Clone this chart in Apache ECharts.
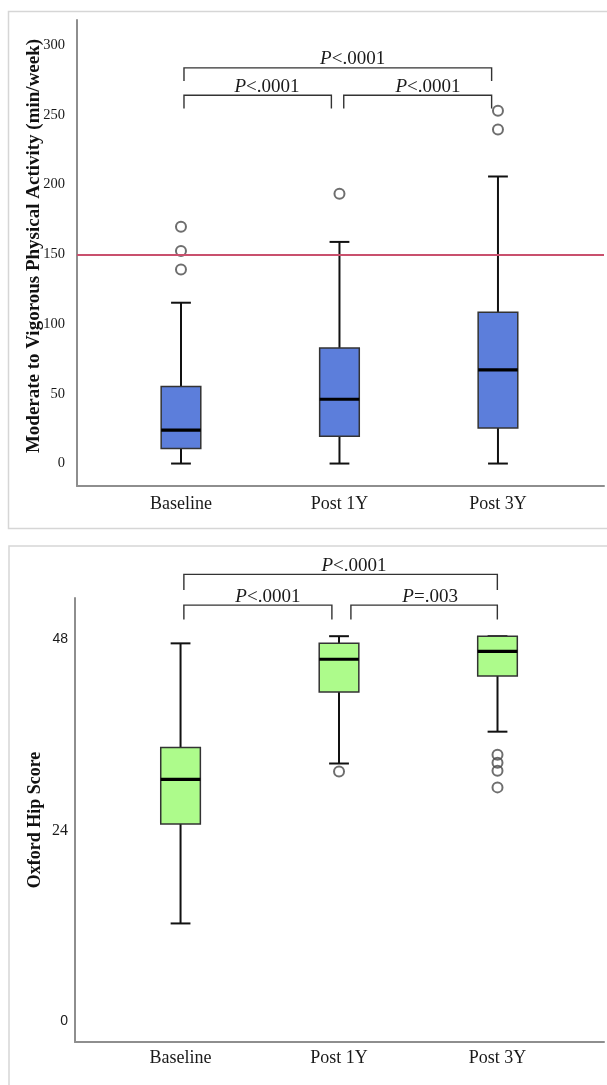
<!DOCTYPE html>
<html>
<head>
<meta charset="utf-8">
<script src="https://cdn.jsdelivr.net/npm/echarts@6/dist/echarts.min.js"></script>
<style>
html,body{margin:0;padding:0;background:#fff;}
#c{width:607px;height:1085px;}
</style>
</head>
<body>
<div id="c"></div>
<script>
// ---- data ----
const categories = ['Baseline', 'Post 1Y', 'Post 3Y'];

// [min, Q1, median, Q3, max]
const mvpaBoxes = [
  [0, 10.8, 23.9, 55.2, 115.3],
  [0, 19.6, 46.1, 82.9, 158.9],
  [0, 25.5, 67.1, 108.5, 205.8]
];
// [categoryIndex, value]
const mvpaOutliers = [[0, 169.7], [0, 152.3], [0, 139.1], [1, 193.4], [2, 252.9], [2, 239.5]];
const mvpaGuideline = 150;
const mvpaTicks = [0, 50, 100, 150, 200, 250, 300];

const ohsBoxes = [
  [12.3, 24.8, 30.4, 34.4, 47.5],
  [32.4, 41.4, 45.5, 47.5, 48.4],
  [36.4, 43.4, 46.5, 48.4, 48.4]
];
const ohsOutliers = [[1, 31.4], [2, 33.5], [2, 32.5], [2, 31.5], [2, 29.4]];
const ohsTicks = [0, 24, 48];

// significance brackets: [fromCat, toCat, level, legEnd, labelCat]
const mvpaBrackets = [
  [0.019, 1.960, 283.7, 274.2, 1.083],
  [0.019, 0.949, 264.1, 254.6, 0.543],
  [1.027, 1.960, 264.1, 254.6, 1.558]
];
const mvpaBracketText = ['<.0001', '<.0001', '<.0001'];
const ohsBrackets = [
  [0.021, 1.999, 56.17, 54.2, 1.094],
  [0.021, 0.955, 52.3, 50.5, 0.551],
  [1.075, 1.999, 52.3, 50.5, 1.575]
];
const ohsBracketText = ['<.0001', '<.0001', '=.003'];

// ---- rendering ----
const SERIF = '"Liberation Serif","Times New Roman",serif';
const SANS = '"Liberation Sans",Arial,sans-serif';

function boxRenderer(fillColor) {
  return function (params, api) {
    const band = api.size([1, 0])[0];
    const hw = band * 0.125;
    const cw = band * 0.0625;
    const cx = api.coord([api.value(0), 0])[0];
    const yMin = api.coord([0, api.value(1)])[1];
    const yQ1 = api.coord([0, api.value(2)])[1];
    const yMed = api.coord([0, api.value(3)])[1];
    const yQ3 = api.coord([0, api.value(4)])[1];
    const yMax = api.coord([0, api.value(5)])[1];
    const ls = { stroke: '#111', lineWidth: 2 };
    return {
      type: 'group',
      children: [
        { type: 'line', shape: { x1: cx, y1: yMax, x2: cx, y2: yQ3 }, style: ls },
        { type: 'line', shape: { x1: cx, y1: yQ1, x2: cx, y2: yMin }, style: ls },
        { type: 'line', shape: { x1: cx - cw, y1: yMax, x2: cx + cw, y2: yMax }, style: ls },
        { type: 'line', shape: { x1: cx - cw, y1: yMin, x2: cx + cw, y2: yMin }, style: ls },
        { type: 'rect', shape: { x: cx - hw, y: yQ3, width: hw * 2, height: yQ1 - yQ3 },
          style: { fill: fillColor, stroke: '#333', lineWidth: 1.5 } },
        { type: 'line', shape: { x1: cx - hw, y1: yMed, x2: cx + hw, y2: yMed },
          style: { stroke: '#000', lineWidth: 3.2 } }
      ]
    };
  };
}

function bracketRenderer(texts) {
  return function (params, api) {
    const x1 = api.coord([api.value(0), 0])[0];
    const x2 = api.coord([api.value(1), 0])[0];
    const y = api.coord([0, api.value(2)])[1];
    const yl = api.coord([0, api.value(3)])[1];
    const lx = api.coord([api.value(4), 0])[0];
    return {
      type: 'group',
      children: [
        { type: 'polyline', shape: { points: [[x1, yl], [x1, y], [x2, y], [x2, yl]] },
          style: { stroke: '#333', lineWidth: 1.4, fill: null } },
        { type: 'text', x: lx, y: y + 1,
          style: {
            text: '{i|P}{n|' + texts[params.dataIndex] + '}',
            align: 'center', verticalAlign: 'bottom',
            rich: {
              i: { fontFamily: SERIF, fontSize: 19, fontStyle: 'italic', fill: '#1a1a1a' },
              n: { fontFamily: SERIF, fontSize: 19, fill: '#1a1a1a' }
            }
          } }
      ]
    };
  };
}

const toItems = boxes => boxes.map((b, i) => [i].concat(b));

const axisLineStyle = { show: true, onZero: false, lineStyle: { color: '#8e8e8e', width: 2 } };

const chart = echarts.init(document.getElementById('c'), null, { renderer: 'canvas' });
chart.setOption({
  animation: false,
  backgroundColor: '#fff',
  graphic: [
    { type: 'rect', shape: { x: 8.5, y: 11.5, width: 620, height: 517 },
      style: { fill: null, stroke: '#d6d6d6', lineWidth: 1.5 }, z: -10 },
    { type: 'rect', shape: { x: 9, y: 546, width: 620, height: 600 },
      style: { fill: null, stroke: '#d6d6d6', lineWidth: 1.5 }, z: -10 }
  ],
  grid: [
    { left: 77, top: 20, width: 527, height: 466 },
    { left: 75, top: 598, width: 529, height: 444 }
  ],
  xAxis: [
    { gridIndex: 0, type: 'value', min: -0.656, max: 2.669,
      axisLine: axisLineStyle, axisTick: { show: false }, splitLine: { show: false },
      axisLabel: { customValues: [0, 1, 2], formatter: v => categories[Math.round(v)],
        fontFamily: SERIF, fontSize: 18, color: '#1a1a1a', margin: 9 } },
    { gridIndex: 1, type: 'value', min: -0.666, max: 2.672,
      axisLine: axisLineStyle, axisTick: { show: false }, splitLine: { show: false },
      axisLabel: { customValues: [0, 1, 2], formatter: v => categories[Math.round(v)],
        fontFamily: SERIF, fontSize: 18, color: '#1a1a1a', margin: 7 } }
  ],
  yAxis: [
    { gridIndex: 0, type: 'value', min: -16.1, max: 318,
      name: 'Moderate to Vigorous Physical Activity (min/week)',
      nameLocation: 'middle', nameGap: 33, nameMoveOverlap: false,
      nameTextStyle: { fontFamily: SERIF, fontSize: 19, fontWeight: 'bold', color: '#111', padding: [0, 0, 0, 14] },
      axisLine: axisLineStyle, axisTick: { show: false }, splitLine: { show: false },
      axisLabel: { customValues: mvpaTicks, fontFamily: SERIF, fontSize: 14.5, color: '#1a1a1a', margin: 12 } },
    { gridIndex: 1, type: 'value', min: -2.6, max: 53.2,
      name: 'Oxford Hip Score',
      nameLocation: 'middle', nameGap: 31, nameMoveOverlap: false,
      nameTextStyle: { fontFamily: SERIF, fontSize: 18, fontWeight: 'bold', color: '#111' },
      axisLine: axisLineStyle, axisTick: { show: false }, splitLine: { show: false },
      axisLabel: { customValues: ohsTicks, margin: 7,
        formatter: v => (v === 24 ? '{s|' + v + '}' : '{a|' + v + '}'),
        rich: {
          a: { fontFamily: SANS, fontSize: 14, color: '#1a1a1a' },
          s: { fontFamily: SERIF, fontSize: 16, color: '#1a1a1a' }
        } } }
  ],
  series: [
    { type: 'custom', xAxisIndex: 0, yAxisIndex: 0, data: toItems(mvpaBoxes),
      encode: { x: 0, y: [1, 2, 3, 4, 5] }, renderItem: boxRenderer('#5c7edb'), z: 3,
      markLine: { silent: true, symbol: 'none', label: { show: false },
        lineStyle: { color: '#c9506d', width: 2, type: 'solid' },
        data: [{ yAxis: mvpaGuideline }] } },
    { type: 'scatter', xAxisIndex: 0, yAxisIndex: 0, data: mvpaOutliers,
      symbol: 'circle', symbolSize: 10, z: 4,
      itemStyle: { color: 'rgba(0,0,0,0)', borderColor: '#4a4a4a', borderWidth: 2 } },
    { type: 'custom', xAxisIndex: 0, yAxisIndex: 0, data: mvpaBrackets,
      encode: { x: [0, 1, 4], y: [2, 3] }, renderItem: bracketRenderer(mvpaBracketText), clip: false },

    { type: 'custom', xAxisIndex: 1, yAxisIndex: 1, data: toItems(ohsBoxes),
      encode: { x: 0, y: [1, 2, 3, 4, 5] }, renderItem: boxRenderer('#adfb8b'), z: 3 },
    { type: 'scatter', xAxisIndex: 1, yAxisIndex: 1, data: ohsOutliers,
      symbol: 'circle', symbolSize: 10, z: 4,
      itemStyle: { color: 'rgba(0,0,0,0)', borderColor: '#4a4a4a', borderWidth: 2 } },
    { type: 'custom', xAxisIndex: 1, yAxisIndex: 1, data: ohsBrackets,
      encode: { x: [0, 1, 4], y: [2, 3] }, renderItem: bracketRenderer(ohsBracketText), clip: false }
  ]
});
</script>
</body>
</html>
